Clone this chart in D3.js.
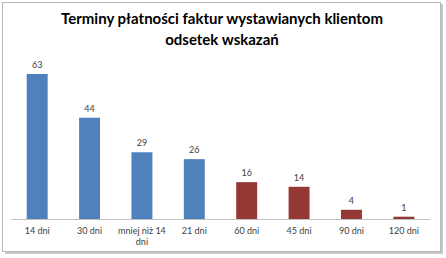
<!DOCTYPE html>
<html><head><meta charset="utf-8">
<script src="https://cdn.jsdelivr.net/npm/d3@7"></script>
<style>body{margin:0;background:#fff;}svg{display:block;}</style>
</head><body>
<script>
const categories = ["14 dni","30 dni","mniej niż 14 dni","21 dni","60 dni","45 dni","90 dni","120 dni"];
const values = [63,44,29,26,16,14,4,1];
const groups = ["blue","blue","blue","blue","red","red","red","red"];
const titleLines = ["Terminy płatności faktur wystawianych klientom","odsetek wskazań"];
const colors = {blue:"#4F81BD", red:"#953735"};

const W=446,H=258;
const svg=d3.select("body").append("svg").attr("width",W).attr("height",H);
const font="Lato, 'Open Sans', sans-serif";

// frame with shadow
svg.append("rect").attr("x",5).attr("y",4).attr("width",438).attr("height",250).attr("fill","#c8c8c8");
svg.append("rect").attr("x",2.5).attr("y",2.5).attr("width",438).attr("height",249).attr("fill","#fff").attr("stroke","#b8b8b8");

svg.selectAll("text.title").data(titleLines).join("text").attr("class","title")
  .attr("x",222).attr("y",(d,i)=>24+i*21).attr("text-anchor","middle")
  .attr("font-family",font).attr("font-weight","bold").attr("font-size",15).attr("fill","#000").text(d=>d);

const x=d3.scaleBand().domain(categories).range([11,430]).paddingInner(0.6).paddingOuter(0.3);
const y=d3.scaleLinear().domain([0,63]).range([219,74]);

svg.selectAll("rect.bar").data(values).join("rect").attr("class","bar")
  .attr("x",(d,i)=>x(categories[i])).attr("width",x.bandwidth())
  .attr("y",d=>y(d)).attr("height",d=>y(0)-y(d)).attr("fill",(d,i)=>colors[groups[i]]);

svg.selectAll("text.val").data(values).join("text").attr("class","val")
  .attr("x",(d,i)=>x(categories[i])+x.bandwidth()/2).attr("y",d=>y(d)-6)
  .attr("text-anchor","middle").attr("font-family",font).attr("font-size",9).attr("fill","#404040").text(d=>d);

const axis=d3.axisBottom(x).tickSize(0).tickPadding(9);
const g=svg.append("g").attr("transform",`translate(0,${y(0)})`).call(axis);
g.select(".domain").attr("stroke","#c0c0c0");
g.selectAll(".tick text").attr("font-family",font).attr("font-size",9).attr("fill","#404040")
  .each(function(d){
    const t=d3.select(this);
    if(d==="mniej niż 14 dni"){
      t.text(null);
      t.append("tspan").attr("x",0).attr("dy","0.71em").text("mniej niż 14");
      t.append("tspan").attr("x",0).attr("dy","1.15em").text("dni");
      t.attr("dy",null);
    }
  });
</script>
</body></html>
